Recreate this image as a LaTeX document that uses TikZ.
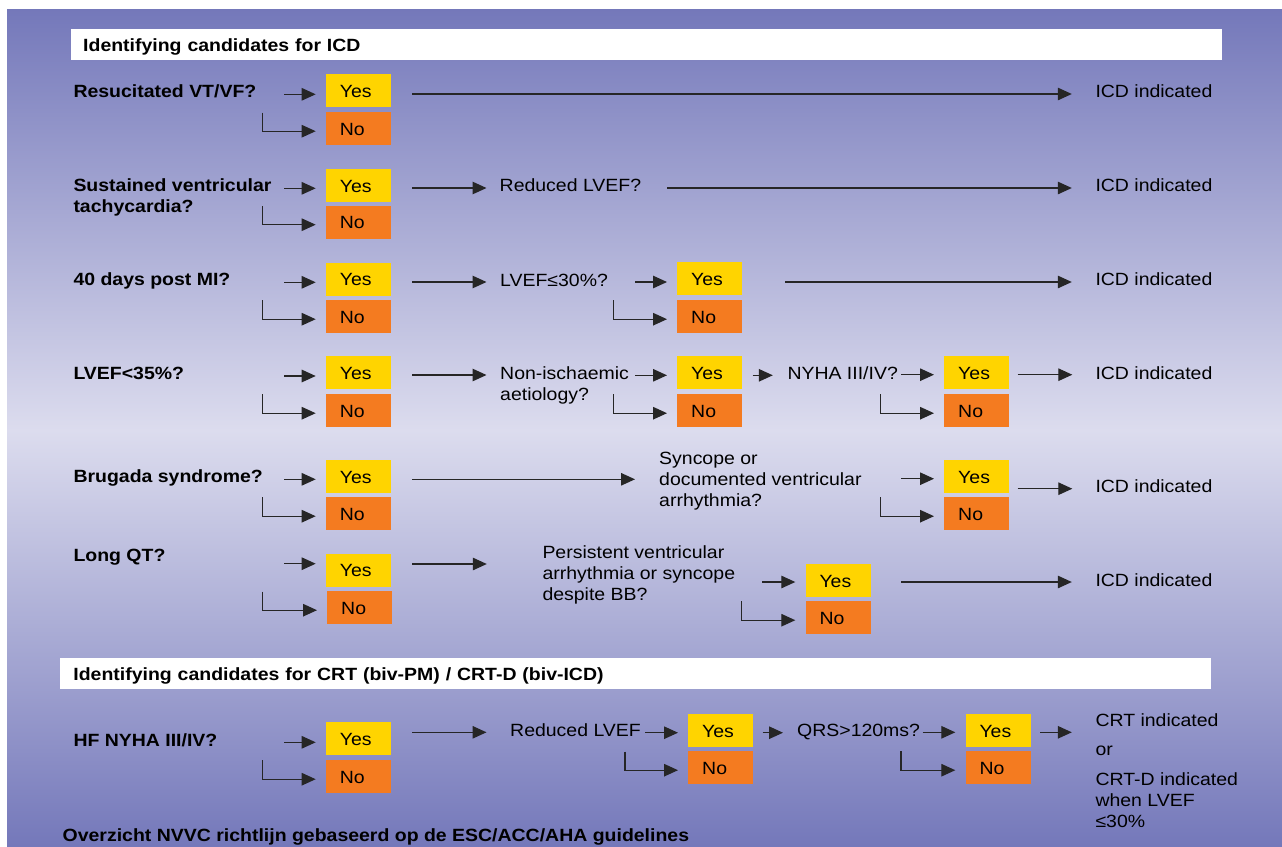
\documentclass[tikz,border=0pt]{standalone}
\usepackage{fontspec}
\setmainfont{Liberation Sans}[FakeStretch=1.1]
\usetikzlibrary{arrows.meta}
\definecolor{yesc}{RGB}{255,212,0}
\definecolor{noc}{RGB}{244,123,32}
\definecolor{bgdark}{RGB}{116,120,186}
\definecolor{bglight}{RGB}{220,220,238}
\newcommand\fs{\fontsize{17.7pt}{21pt}\selectfont}
\newcommand\ml[1]{\vtop{\baselineskip=21pt\lineskip=0pt\lineskiplimit=-100pt\halign{##\hfil\cr#1\crcr}}}
\tikzset{
  ybox/.style={rectangle, fill=yesc, anchor=north west, minimum width=65pt, minimum height=33pt,
    text width=37pt, inner xsep=14pt, inner ysep=0pt, align=left, text height=13pt, text depth=0pt, font=\fs},
  nbox/.style={ybox, fill=noc},
  hdr/.style={rectangle, fill=white, anchor=north west, minimum height=31.7pt, inner ysep=0pt,
    align=left, text height=14pt, text depth=0pt, font=\fs\bfseries},
  txt/.style={anchor=base west, inner sep=0pt, font=\fs},
  btxt/.style={txt, font=\fs\bfseries},
  arr/.style={draw=black!85, line width=1.2pt, -{Triangle[length=14pt,width=12.5pt]}, shorten >=10pt},
}
\newcommand\dec[5]{%
  \node[ybox] (#1y) at (#2,#3) {Yes};
  \node[nbox] (#1n) at (#4,#5) {No};}
\newcommand\inarr[4]{% name x y target
  \coordinate (#1) at (#2,#3);
  \draw[arr] (#1) -- (#1 -| #4.west);}
\newcommand\elb[4]{% name x ytop target
  \coordinate (#1) at (#2,#3);
  \draw[arr] (#1) |- ([yshift=-2.5pt]#4.west);}
\newcommand\longarr[5]{% name x y target shorten
  \coordinate (#1) at (#2,#3);
  \draw[arr, shorten >=#5] (#1) -- (#1 -| #4.west);}
\begin{document}
\begin{tikzpicture}[x=1pt,y=-1pt]
\useasboundingbox (0,0) rectangle (1282,846);
\clip (0,0) rectangle (1282,846);
\fill[white] (0,0) rectangle (1282,846);
\shade[top color=bgdark, bottom color=bglight] (7,9) rectangle (1282,430.5);
\shade[top color=bglight, bottom color=bgdark] (7,430) rectangle (1282,846);

% headers
\node[hdr, minimum width=1151.3pt, text width=1126.7pt, inner xsep=12.3pt] (H1) at (70.7,28.3) {Identifying candidates for ICD};
\node[hdr, minimum width=1151pt, text width=1124.6pt, inner xsep=13.2pt] (H2) at (60,657.3) {Identifying candidates for CRT (biv-PM) / CRT-D (biv-ICD)};

% question labels
\node[btxt] (L1) at (73.3,97.7) {Resucitated VT/VF?};
\node[btxt] (L2) at (73.3,191) {\ml{Sustained ventricular\cr tachycardia?}};
\node[btxt] (L3) at (73.3,285) {40 days post MI?};
\node[btxt] (L4) at (73.3,379) {LVEF<35\%?};
\node[btxt] (L5) at (73.3,482.7) {Brugada syndrome?};
\node[btxt] (L6) at (73.3,561.7) {Long QT?};
\node[btxt] (L7) at (73.3,746) {HF NYHA III/IV?};

% intermediate texts
\node[txt] (R2) at (499.5,191) {Reduced LVEF?};
\node[txt] (Q3) at (500,286) {LVEF≤30\%?};
\node[txt] (Q4) at (500,379.3) {\ml{Non-ischaemic\cr aetiology?}};
\node[txt] (N4) at (787.3,379.3) {NYHA III/IV?};
\node[txt] (S5) at (659,464) {\ml{Syncope or\cr documented ventricular\cr arrhythmia?}};
\node[txt] (P6) at (542.3,558.3) {\ml{Persistent ventricular\cr arrhythmia or syncope\cr despite BB?}};
\node[txt] (R7) at (510,736) {Reduced LVEF};
\node[txt] (Q7) at (797,736) {QRS>120ms?};

% outcomes
\node[txt] (I1) at (1095.3,97.3) {ICD indicated};
\node[txt] (I2) at (1095.3,191) {ICD indicated};
\node[txt] (I3) at (1095.3,285.5) {ICD indicated};
\node[txt] (I4) at (1095.3,379) {ICD indicated};
\node[txt] (I5) at (1095.3,492.5) {ICD indicated};
\node[txt] (I6) at (1095.3,586.5) {ICD indicated};
\node[txt] (C7) at (1095.3,726.7) {\ml{CRT indicated\cr\noalign{\vskip 7.6pt} or\cr\noalign{\vskip 9.4pt} CRT-D indicated\cr when LVEF\cr ≤30\%}};

% footer
\node[btxt] (FT) at (62.5,841.8) {Overzicht NVVC richtlijn gebaseerd op de ESC/ACC/AHA guidelines};

% yes/no boxes
\dec{A}{325.7}{74}{325.7}{112}
\dec{B}{325.7}{169}{325.7}{205.5}
\dec{C}{325.7}{262.5}{325.7}{300}
\dec{D}{325.7}{356}{325.7}{394}
\dec{E}{325.7}{460}{325.7}{497}
\dec{F}{325.7}{553.5}{327}{591}
\dec{G}{325.7}{722}{325.7}{760}
\dec{Ct}{677}{262}{677}{300}
\dec{Dt}{677}{356}{677}{394}
\dec{Dh}{944}{356}{944}{394}
\dec{Eh}{944}{460}{944}{497}
\dec{Ft}{805.3}{564}{805.3}{601}
\dec{Gt}{688}{714}{688}{751}
\dec{Gh}{965.3}{714}{965.3}{751}

% arrows into Yes
\inarr{ia}{284}{94.3}{Ay}
\inarr{ib}{284}{188.3}{By}
\inarr{ic}{284}{282.3}{Cy}
\inarr{id}{284}{376}{Dy}
\inarr{ie}{284}{479.3}{Ey}
\inarr{if}{284}{563.7}{Fy}
\inarr{ig}{284}{742.3}{Gy}
\inarr{ict}{635}{282}{Cty}
\inarr{idt}{635}{375.3}{Dty}
\inarr{idh}{901}{374.7}{Dhy}
\inarr{ieh}{901}{478.7}{Ehy}
\inarr{ift}{762.3}{582}{Fty}
\inarr{igt}{645}{732.7}{Gty}
\inarr{igh}{922.7}{732.3}{Ghy}

% elbows into No
\elb{ea}{262.3}{112.7}{An}
\elb{eb}{262.3}{206}{Bn}
\elb{ec}{262.3}{300}{Cn}
\elb{ed}{262.3}{394}{Dn}
\elb{ee}{262.3}{497.3}{En}
\elb{ef}{262.3}{591.7}{Fn}
\elb{eg}{262.3}{760}{Gn}
\elb{ect}{613.7}{300}{Ctn}
\elb{edt}{613.7}{394}{Dtn}
\elb{edh}{880.3}{394}{Dhn}
\elb{eeh}{880.3}{497}{Ehn}
\elb{eft}{741.7}{601}{Ftn}
\elb{egt}{625}{751.7}{Gtn}
\elb{egh}{901}{751}{Ghn}

% connecting arrows
\longarr{la}{412}{94}{I1}{23.5pt}
\longarr{lb1}{412}{188}{R2}{13pt}
\longarr{lb2}{667}{188}{I2}{23.5pt}
\longarr{lc1}{412}{282}{Q3}{13.5pt}
\longarr{lc2}{785}{282}{I3}{23.5pt}
\longarr{ld1}{412}{375}{Q4}{13.5pt}
\longarr{ld2}{752.7}{375.3}{N4}{14.5pt}
\longarr{ld3}{1017.7}{374.7}{I4}{23pt}
\longarr{le1}{412}{479.3}{S5}{24pt}
\longarr{le2}{1017.7}{488.7}{I5}{23pt}
\longarr{lf1}{412}{564}{P6}{55.5pt}
\longarr{lf2}{901.3}{582}{I6}{23.5pt}
\longarr{lg1}{412}{732.3}{R7}{23.5pt}
\longarr{lg2}{762.7}{732.7}{Q7}{14pt}
\longarr{lg3}{1040}{732.3}{C7}{23.5pt}
\end{tikzpicture}
\end{document}
